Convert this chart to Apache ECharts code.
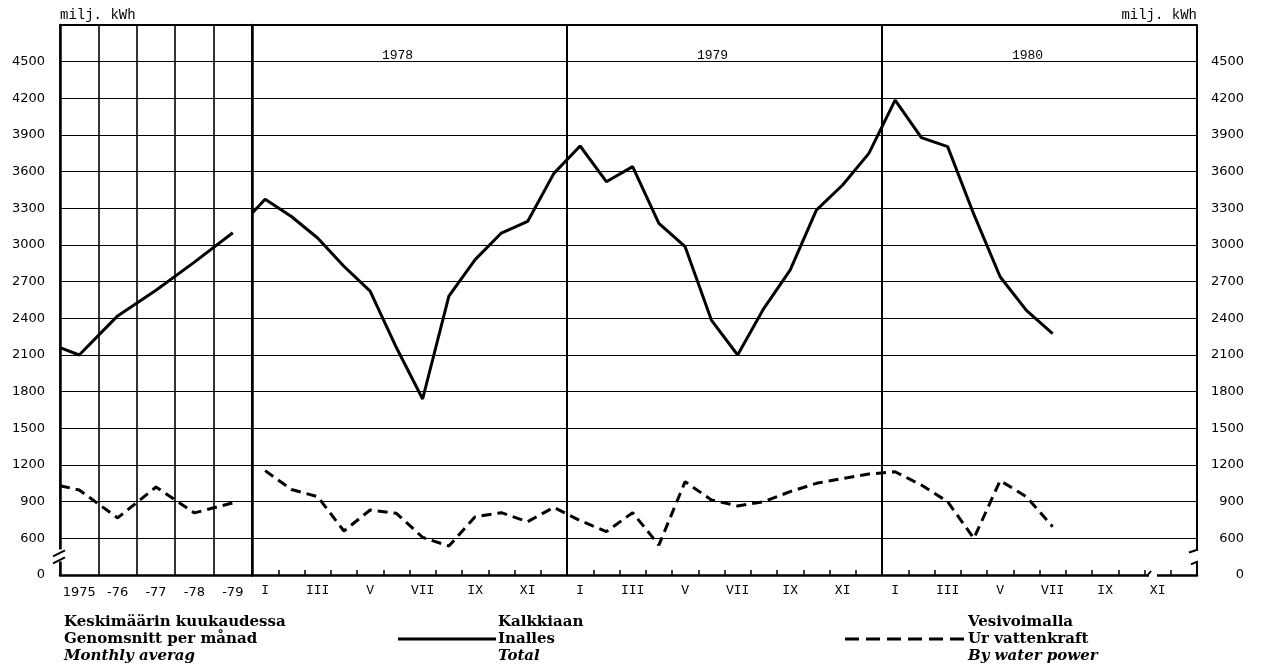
<!DOCTYPE html>
<html><head><meta charset="utf-8">
<script src="https://cdn.jsdelivr.net/npm/echarts@6/dist/echarts.min.js"></script>
<style>html,body{margin:0;padding:0;background:#fff}#c{width:1261px;height:665px}</style>
</head><body><div id="c"></div>
<script>
// ---- data ----
const yearLabels = ['1975', '-76', '-77', '-78', '-79'];
const annualTotal = [2100, 2420, 2630, 2860, 3100];
const annualWater = [996, 767, 1020, 808, 890];
const annualEdgeTotal = 2160;   // line entering at left edge
const annualEdgeWater = 1030;
const monthNames = ['I','II','III','IV','V','VI','VII','VIII','IX','X','XI','XII'];
const periodYears = ['1978', '1979', '1980'];
const monthlyStartTotal = 3260; // line entering at start of 1978
const monthlyTotal = [
  3375, 3233, 3057, 2826, 2623, 2161, 1740, 2582, 2880, 3098, 3193, 3586,
  3810, 3518, 3641, 3177, 2986, 2386, 2100, 2482, 2795, 3286, 3491, 3750,
  4186, 3878, 3805, 3250, 2740, 2465, 2275];
const monthlyWater = [
  1154, 1000, 941, 660, 832, 805, 608, 537, 777, 810, 736, 854,
  745, 655, 810, 545, 1064, 914, 865, 900, 982, 1050, 1090, 1126,
  1145, 1036, 900, 600, 1072, 941, 695];
const yMin = 300, yMax = 4800, yStep = 300; // bottom (broken) level is labelled 0
const unitLabel = 'milj. kWh';
const legendCols = [
  ['Keskimäärin kuukaudessa', 'Genomsnitt per månad', 'Monthly averag'],
  ['Kalkkiaan', 'Inalles', 'Total'],
  ['Vesivoimalla', 'Ur vattenkraft', 'By water power']
];

// ---- chart ----
const chart = echarts.init(document.getElementById('c'));
const monthCats = [];
periodYears.forEach(() => monthNames.forEach(m => monthCats.push(m)));
const BLK = '#000';
const yLabelFmt = v => v === yMin ? '0' : (v === yMax ? '' : String(v));
const numFont = {fontFamily: 'DejaVu Sans', fontSize: 13, color: BLK};
const monoFont = {fontFamily: 'Liberation Mono', fontSize: 13, color: BLK};

chart.setOption({
  animation: false,
  backgroundColor: '#fff',
  grid: [
    {left: 60, width: 192, top: 25, bottom: 90},
    {left: 252, right: 64, top: 25, bottom: 90}
  ],
  xAxis: [
    {gridIndex: 0, type: 'category', data: yearLabels, position: 'bottom', boundaryGap: true,
     axisLine: {lineStyle: {color: BLK, width: 2.5}}, axisTick: {show: false},
     axisLabel: Object.assign({margin: 11, interval: 0}, numFont),
     splitLine: {show: true, interval: 0, lineStyle: {color: BLK, width: 1.6}}},
    {gridIndex: 0, type: 'value', min: 0, max: yearLabels.length, show: false, position: 'bottom'},
    {gridIndex: 0, type: 'value', min: 0, max: 1, position: 'top',
     axisLine: {lineStyle: {color: BLK, width: 2}}, axisTick: {show: false},
     axisLabel: {show: false}, splitLine: {show: false}},
    {gridIndex: 1, type: 'category', data: monthCats, position: 'bottom', boundaryGap: true,
     axisLine: {lineStyle: {color: BLK, width: 2.5}},
     axisTick: {show: true, inside: true, length: 5, interval: 0, lineStyle: {color: BLK, width: 1.5}},
     axisLabel: Object.assign({margin: 9, interval: 0,
       formatter: (v, i) => (i % 2 === 0 ? v : '')}, monoFont),
     splitLine: {show: false}},
    {gridIndex: 1, type: 'value', min: 0, max: monthCats.length, show: false, position: 'bottom'},
    {gridIndex: 1, type: 'category', data: periodYears, position: 'top', boundaryGap: true,
     axisLine: {lineStyle: {color: BLK, width: 2}}, axisTick: {show: false},
     axisLabel: Object.assign({inside: true, margin: 24, interval: 0, padding: [0, 24, 0, 0]}, monoFont),
     splitLine: {show: true, interval: 0, lineStyle: {color: BLK, width: 2}}}
  ],
  yAxis: [
    {gridIndex: 0, type: 'value', min: yMin, max: yMax, interval: yStep, position: 'left',
     axisLine: {show: true, lineStyle: {color: BLK, width: 2.5}}, axisTick: {show: false},
     axisLabel: Object.assign({margin: 15, formatter: yLabelFmt}, numFont),
     splitLine: {show: true, lineStyle: {color: BLK, width: 1.2}}},
    {gridIndex: 1, type: 'value', min: yMin, max: yMax, interval: yStep, position: 'right',
     axisLine: {show: true, lineStyle: {color: BLK, width: 2.5}}, axisTick: {show: false},
     axisLabel: Object.assign({margin: 47, align: 'right', formatter: yLabelFmt}, numFont),
     splitLine: {show: true, lineStyle: {color: BLK, width: 1.2}}}
  ],
  series: [
    {type: 'line', xAxisIndex: 1, yAxisIndex: 0, symbol: 'none',
     lineStyle: {color: BLK, width: 3},
     data: [[0, annualEdgeTotal]].concat(annualTotal.map((v, i) => [i + 0.5, v]))},
    {type: 'line', xAxisIndex: 1, yAxisIndex: 0, symbol: 'none',
     lineStyle: {color: BLK, width: 3, type: [10, 6]},
     data: [[0, annualEdgeWater]].concat(annualWater.map((v, i) => [i + 0.5, v]))},
    {type: 'line', xAxisIndex: 4, yAxisIndex: 1, symbol: 'none',
     lineStyle: {color: BLK, width: 3},
     data: [[0, monthlyStartTotal]].concat(monthlyTotal.map((v, i) => [i + 0.5, v]))},
    {type: 'line', xAxisIndex: 4, yAxisIndex: 1, symbol: 'none',
     lineStyle: {color: BLK, width: 3, type: [10, 6]},
     data: monthlyWater.map((v, i) => [i + 0.5, v])}
  ]
});

// ---- axis breaks, unit labels and legend (graphic) ----
const xL = chart.convertToPixel({xAxisIndex: 1}, 0);
const xR = chart.convertToPixel({xAxisIndex: 4}, monthCats.length);
const yB = chart.convertToPixel({yAxisIndex: 0}, 460);
const y0 = chart.convertToPixel({yAxisIndex: 0}, yMin);
const yTop = chart.convertToPixel({yAxisIndex: 0}, yMax);
const ln = (x1, y1, x2, y2, w) => ({type: 'line', shape: {x1, y1, x2, y2}, style: {stroke: BLK, lineWidth: w || 2}, z: 100});
const rect = (x, y, w, h) => ({type: 'rect', shape: {x, y, width: w, height: h}, style: {fill: '#fff'}, z: 99});
const txt = (x, y, s, f) => ({type: 'text', x, y, style: Object.assign({text: s, fill: BLK, textVerticalAlign: 'middle', fontFamily: 'DejaVu Serif', fontSize: 15, fontWeight: 'bold'}, f || {}), z: 100});

const g = [
  rect(xL - 4, yB - 6, 8, 12),
  ln(xL - 7, yB + 1, xL + 5, yB - 5),
  ln(xL - 7, yB + 8, xL + 5, yB + 2),
  rect(xR - 4, yB - 5, 8, 11),
  ln(xR - 8, yB - 3, xR + 1, yB - 6),
  ln(xR - 6, yB + 9, xR + 1, yB + 6),
  rect(xR - 48, y0 - 3, 8, 6),
  ln(xR - 50, y0 + 1, xR - 46, y0 - 4),
  txt(xL, yTop - 10, unitLabel, {fontFamily: 'Liberation Mono', fontSize: 14, fontWeight: 'normal'}),
  txt(xR, yTop - 10, unitLabel, {fontFamily: 'Liberation Mono', fontSize: 14, fontWeight: 'normal', textAlign: 'right'})
];
const legX = [64, 498, 968];
const legY = [622, 639, 656];
legendCols.forEach((col, c) => col.forEach((s, r) => {
  g.push(txt(legX[c], legY[r], s, r === 2 ? {fontStyle: 'italic'} : {}));
}));
g.push(ln(398, legY[1], 496, legY[1], 3));
g.push({type: 'line', shape: {x1: 845, y1: legY[1], x2: 965, y2: legY[1]},
  style: {stroke: BLK, lineWidth: 3, lineDash: [14, 7]}, z: 100});
chart.setOption({graphic: g});
</script></body></html>
